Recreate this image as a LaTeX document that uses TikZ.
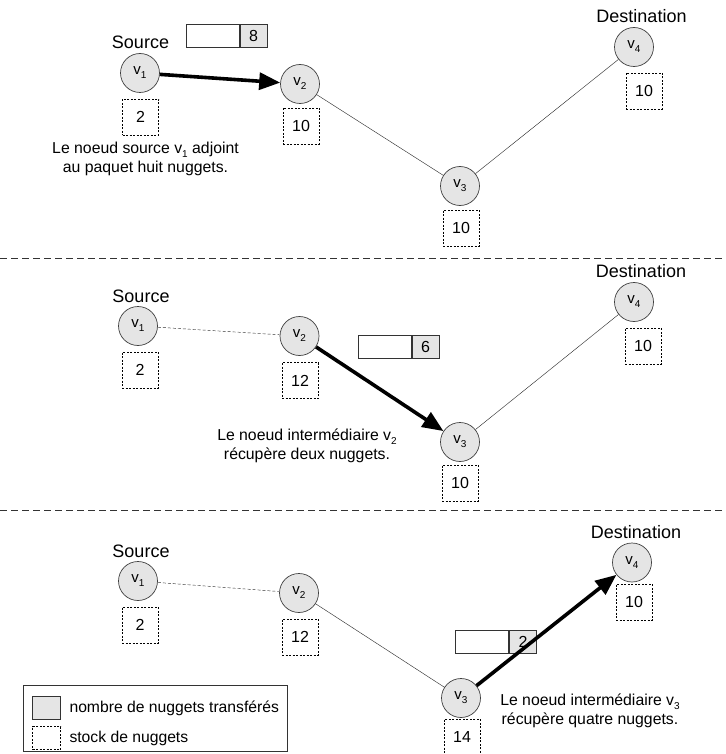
\documentclass[tikz,border=0pt]{standalone}
\usepackage{fontspec}
\setmainfont{Liberation Sans}
\usetikzlibrary{arrows.meta}
\newcommand{\vsub}[2]{#1\raisebox{-4pt}{\fontsize{10}{10}\selectfont #2}}
\tikzset{
  vnode/.style={circle,draw=black!75,fill=black!10,line width=0.7pt,minimum size=39pt,inner sep=0pt,font=\fontsize{15}{15}\selectfont},
  stock/.style={draw=black,dash pattern=on 2pt off 1.5pt,line width=0.7pt,minimum width=36pt,minimum height=36pt,inner sep=0pt,font=\fontsize{16}{16}\selectfont},
  pktw/.style={draw=black!80,fill=white,line width=0.7pt,minimum width=53pt,minimum height=23pt,inner sep=0pt,anchor=east},
  pktg/.style={draw=black!80,fill=black!10,line width=0.7pt,minimum width=27pt,minimum height=23pt,inner sep=0pt,font=\fontsize{16}{16}\selectfont},
  lbl/.style={font=\fontsize{18}{18}\selectfont},
  captxt/.style={font=\fontsize{15.8}{19.5}\selectfont,align=center},
  thinln/.style={draw=black!80,line width=0.45pt},
  thindash/.style={draw=black!80,line width=0.45pt,dash pattern=on 3pt off 2pt},
  bigarrow/.style={draw=black,line width=3.6pt,-{Triangle[length=21pt,width=17pt]}},
  sepline/.style={draw=black!80,line width=0.7pt,dash pattern=on 7pt off 4pt},
}
\begin{document}
\begin{tikzpicture}[x=1pt,y=-1pt]
\useasboundingbox (0,0) rectangle (725,754);
% ---------- Panel 1
\node[lbl] (s1) at (140.5,42) {Source};
\node[lbl] (d1) at (641.5,16) {Destination};
\node[vnode] (a1) at (140,73) {\vsub{v}{1}};
\node[vnode] (a2) at (300,84) {\vsub{v}{2}};
\node[vnode] (a3) at (460,186) {\vsub{v}{3}};
\node[vnode] (a4) at (634,47) {\vsub{v}{4}};
\node[stock] (sa1) at (140.5,117) {2};
\node[stock] (sa2) at (301,126) {10};
\node[stock] (sa3) at (461,228) {10};
\node[stock] (sa4) at (644,91) {10};
\node[pktg] (pa) at (253.5,36) {8};
\node[pktw] (pwa) at (pa.west) {};
\draw[thinln] (a2) -- (a3);
\draw[thinln] (a3) -- (a4);
\draw[bigarrow] (a1) -- (a2);
\node[captxt] (ca) at (145.5,159) {Le noeud source \vsub{v}{1} adjoint\\au paquet huit nuggets.};
\coordinate (l1a) at (0,258);
\coordinate (l1b) at (725,258);
\draw[sepline] (l1a) -- (l1b);
% ---------- Panel 2
\node[lbl] (s2) at (141,296) {Source};
\node[lbl] (d2) at (641,271) {Destination};
\node[vnode] (b1) at (138,326) {\vsub{v}{1}};
\node[vnode] (b2) at (299.5,336) {\vsub{v}{2}};
\node[vnode] (b3) at (460,442) {\vsub{v}{3}};
\node[vnode] (b4) at (634,302) {\vsub{v}{4}};
\node[stock] (sb1) at (140,370) {2};
\node[stock] (sb2) at (300,380.5) {12};
\node[stock] (sb3) at (460,483) {10};
\node[stock] (sb4) at (643,346) {10};
\node[pktg] (pb) at (425.5,347) {6};
\node[pktw] (pwb) at (pb.west) {};
\draw[thindash] (b1) -- (b2);
\draw[thinln] (b3) -- (b4);
\draw[bigarrow] (b2) -- (b3);
\node[captxt] (cb) at (307,446) {Le noeud intermédiaire \vsub{v}{2}\\récupère deux nuggets.};
\coordinate (l2a) at (0,510);
\coordinate (l2b) at (725,510);
\draw[sepline] (l2a) -- (l2b);
% ---------- Panel 3
\node[lbl] (s3) at (141,551) {Source};
\node[lbl] (d3) at (636,532) {Destination};
\node[vnode] (c1) at (138,581) {\vsub{v}{1}};
\node[vnode] (c2) at (299,593) {\vsub{v}{2}};
\node[vnode] (c3) at (461,698) {\vsub{v}{3}};
\node[vnode] (c4) at (632,562.5) {\vsub{v}{4}};
\node[stock] (sc1) at (140,625) {2};
\node[stock] (sc2) at (300,637) {12};
\node[stock] (sc3) at (462,737) {14};
\node[stock] (sc4) at (634,602) {10};
\node[pktg] (pc) at (523,641.5) {2};
\node[pktw] (pwc) at (pc.west) {};
\draw[thindash] (c1) -- (c2);
\draw[thinln] (c2) -- (c3);
\draw[bigarrow] (c3) -- (c4);
\node[captxt] (cc) at (590,711) {Le noeud intermédiaire \vsub{v}{3}\\récupère quatre nuggets.};
% ---------- Legend
\node[draw=black!80,line width=0.7pt,minimum width=264pt,minimum height=66pt,inner sep=0pt] (leg) at (155,718) {};
\node[draw=black!80,fill=black!10,line width=0.7pt,minimum width=28pt,minimum height=23pt,inner sep=0pt] (lg1) at (46.7,708.3) {};
\node[draw=black,dash pattern=on 2pt off 1.5pt,line width=0.7pt,minimum width=28pt,minimum height=23pt,inner sep=0pt] (lg2) at (46.7,738.3) {};
\node[anchor=west,font=\fontsize{15.7}{15.7}\selectfont] (lt1) at (66,708.3) {nombre de nuggets transférés};
\node[anchor=west,font=\fontsize{15.7}{15.7}\selectfont] (lt2) at (66,738.3) {stock de nuggets};
\end{tikzpicture}
\end{document}
